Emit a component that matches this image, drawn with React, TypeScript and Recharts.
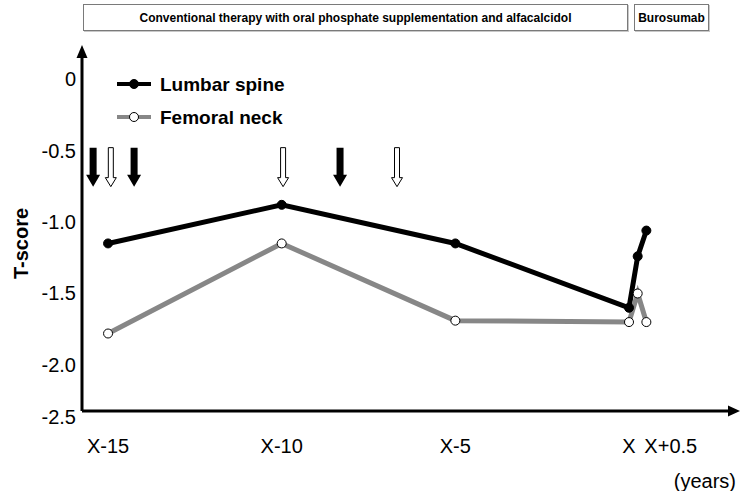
import React from "react";
import { ComposedChart, Line, XAxis, YAxis, ReferenceDot } from "recharts";

// Years relative to "X" (the switch to burosumab)
const YEARS = [-15, -10, -5, 0, 0.25, 0.5];
const LUMBAR = [-1.15, -0.88, -1.15, -1.6, -1.24, -1.06];
const FEMORAL = [-1.78, -1.15, -1.69, -1.7, -1.5, -1.7];

// Event arrows above the curves (filled vs open)
const FILLED_ARROWS = [-15.43, -14.25, -8.32];
const OPEN_ARROWS = [-14.92, -9.96, -6.68];
const ARROW_TOP = -0.48;

const X_TICKS = [-15, -10, -5, 0, 0.5];
const X_LABELS = ["X-15", "X-10", "X-5", "X", "X+0.5"];
const Y_TICKS = [0, -0.5, -1, -1.5, -2];
const Y_LABELS = ["0", "-0.5", "-1.0", "-1.5", "-2.0"];

const X_DOMAIN: [number, number] = [-15.75, 2.908];
const Y_DOMAIN: [number, number] = [-2.322, 0.161];

const FONT = "'Liberation Sans', Arial, sans-serif";
const BLACK = "#000";
const GREY = "#878787";

const lumbarData = YEARS.map((t, i) => ({ t, v: LUMBAR[i] }));
const femoralData = YEARS.map((t, i) => ({ t, v: FEMORAL[i] }));

function XTick({ x, y, payload }: any) {
  const i = X_TICKS.indexOf(payload.value);
  const last = i === X_TICKS.length - 1;
  return (
    <text
      x={last ? x - 2 : x}
      y={y + 42}
      textAnchor={last ? "start" : "middle"}
      fontSize={20}
      fontFamily={FONT}
      fill={BLACK}
    >
      {X_LABELS[i]}
    </text>
  );
}

function YTick({ x, y, payload }: any) {
  return (
    <text x={x} y={y + 7} textAnchor="end" fontSize={20} fontFamily={FONT} fill={BLACK}>
      {Y_LABELS[Y_TICKS.indexOf(payload.value)]}
    </text>
  );
}

function YTitle({ viewBox }: any) {
  const cx = 21;
  const cy = viewBox.y + viewBox.height / 2 + 10;
  return (
    <text
      x={cx}
      y={cy}
      transform={`rotate(-90 ${cx} ${cy})`}
      textAnchor="middle"
      dominantBaseline="central"
      fontSize={20}
      fontWeight="bold"
      fontFamily={FONT}
      fill={BLACK}
    >
      T-score
    </text>
  );
}

function FilledArrow({ cx, cy }: any) {
  const d = `M${cx - 3.5},${cy} L${cx + 3.5},${cy} L${cx + 3.5},${cy + 27} L${cx + 7},${cy + 27} L${cx},${cy + 39} L${cx - 7},${cy + 27} L${cx - 3.5},${cy + 27} Z`;
  return <path d={d} fill={BLACK} />;
}

function OpenArrow({ cx, cy }: any) {
  const d = `M${cx - 2.5},${cy} L${cx + 2.5},${cy} L${cx + 2.5},${cy + 30} L${cx + 5.5},${cy + 30} L${cx},${cy + 39} L${cx - 5.5},${cy + 30} L${cx - 2.5},${cy + 30} Z`;
  return <path d={d} fill="#fff" stroke={BLACK} strokeWidth={1} />;
}

function UpHead({ cx, cy }: any) {
  return <path d={`M${cx - 5.5},${cy + 2} L${cx + 5.5},${cy + 2} L${cx},${cy - 11} Z`} fill={BLACK} />;
}

function RightHead({ cx, cy }: any) {
  return <path d={`M${cx - 2},${cy - 5.5} L${cx - 2},${cy + 5.5} L${cx + 10},${cy} Z`} fill={BLACK} />;
}

function Legend() {
  const rows = [
    { name: "Lumbar spine", color: BLACK, fill: BLACK, y: 84 },
    { name: "Femoral neck", color: GREY, fill: "#fff", y: 117 },
  ];
  return (
    <svg width={741} height={491} style={{ position: "absolute", left: 0, top: 0, pointerEvents: "none" }}>
      {rows.map((r) => (
        <g key={r.name}>
          <line x1={117} x2={151} y1={r.y} y2={r.y} stroke={r.color} strokeWidth={4} />
          <circle cx={134} cy={r.y} r={4.5} fill={r.fill} stroke={BLACK} strokeWidth={1} />
          <text x={160} y={r.y + 7} fontSize={19} fontWeight="bold" fontFamily={FONT} fill={BLACK}>
            {r.name}
          </text>
        </g>
      ))}
    </svg>
  );
}

const bannerStyle: React.CSSProperties = {
  position: "absolute",
  top: 4,
  height: 25,
  border: "1px solid #7a7a7a",
  boxShadow: "1px 1px 0 #c8c8c8",
  fontSize: 12,
  fontWeight: "bold",
  fontFamily: FONT,
  display: "flex",
  alignItems: "center",
  justifyContent: "center",
  background: "#fff",
};

export default function App() {
  return (
    <div style={{ position: "absolute", left: 0, top: 0, width: 741, height: 491, background: "#fff", fontFamily: FONT }}>
      <ComposedChart width={741} height={491} margin={{ top: 56, right: 11, bottom: 20, left: 2 }}>
        <XAxis
          type="number"
          dataKey="t"
          domain={X_DOMAIN}
          ticks={X_TICKS}
          interval={0}
          allowDataOverflow
          height={60}
          tickLine={false}
          tickSize={0}
          tickMargin={0}
          axisLine={{ stroke: BLACK, strokeWidth: 3 }}
          tick={<XTick />}
        />
        <YAxis
          type="number"
          dataKey="v"
          domain={Y_DOMAIN}
          ticks={Y_TICKS}
          interval={0}
          allowDataOverflow
          width={80}
          tickLine={false}
          tickSize={0}
          tickMargin={6}
          axisLine={{ stroke: BLACK, strokeWidth: 3 }}
          tick={<YTick />}
          label={<YTitle />}
        />
        {FILLED_ARROWS.map((t) => (
          <ReferenceDot key={`f${t}`} x={t} y={ARROW_TOP} ifOverflow="visible" shape={<FilledArrow />} />
        ))}
        {OPEN_ARROWS.map((t) => (
          <ReferenceDot key={`o${t}`} x={t} y={ARROW_TOP} ifOverflow="visible" shape={<OpenArrow />} />
        ))}
        <ReferenceDot x={X_DOMAIN[0]} y={Y_DOMAIN[1]} ifOverflow="visible" shape={<UpHead />} />
        <ReferenceDot x={X_DOMAIN[1]} y={Y_DOMAIN[0]} ifOverflow="visible" shape={<RightHead />} />
        <Line
          data={lumbarData}
          dataKey="v"
          stroke={BLACK}
          strokeWidth={5}
          dot={{ r: 4.5, fill: BLACK, stroke: BLACK, strokeWidth: 1 }}
          isAnimationActive={false}
        />
        <Line
          data={femoralData}
          dataKey="v"
          stroke={GREY}
          strokeWidth={5}
          dot={{ r: 4.5, fill: "#fff", stroke: BLACK, strokeWidth: 1 }}
          isAnimationActive={false}
        />
      </ComposedChart>
      <Legend />
      <div style={{ ...bannerStyle, left: 83, width: 543 }}>
        Conventional therapy with oral phosphate supplementation and alfacalcidol
      </div>
      <div style={{ ...bannerStyle, left: 634, width: 73 }}>Burosumab</div>
      <div style={{ position: "absolute", right: 741 - 76, top: 405, fontSize: 20, lineHeight: "24px" }}>-2.5</div>
      <div style={{ position: "absolute", right: 741 - 736, top: 469, fontSize: 20, lineHeight: "24px" }}>(years)</div>
    </div>
  );
}
